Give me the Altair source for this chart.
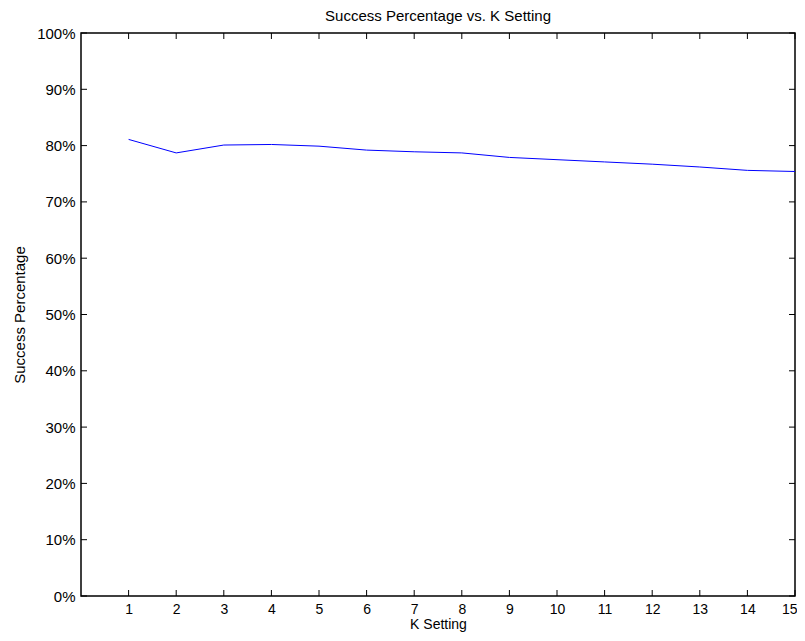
import altair as alt
import pandas as pd

k_values = list(range(1, 16))
success = [0.811, 0.787, 0.801, 0.802, 0.799, 0.792, 0.789, 0.787,
           0.779, 0.775, 0.771, 0.767, 0.762, 0.756, 0.754]
x_ticks = list(range(1, 16))
y_ticks = [i / 10 for i in range(11)]

W, H = 714, 563
TL = 6  # inward tick length
FONT = "Liberation Sans"
FS = 15

df = pd.DataFrame({"k": k_values, "s": success})
xt = pd.DataFrame({"k": x_ticks})
yt = pd.DataFrame({"s": y_ticks})

xscale = alt.Scale(domain=[0, 15], nice=False, zero=False)
yscale = alt.Scale(domain=[0, 1], nice=False)

line = alt.Chart(df).mark_line(color="#0000ff", strokeWidth=1).encode(
    x=alt.X("k:Q", scale=xscale,
            axis=alt.Axis(values=x_ticks, format="d", title="K Setting",
                          titlePadding=1, labelPadding=6,
                          labelFontSize=14, titleFontSize=14,
                          labelFlush=True, labelFlushOffset=2)),
    y=alt.Y("s:Q", scale=yscale,
            axis=alt.Axis(values=y_ticks, format=".0%", title="Success Percentage",
                          titlePadding=9, labelPadding=6, labelFlush=False)),
)

tick_style = dict(color="black", strokeWidth=1)
bottom_ticks = alt.Chart(xt).mark_rule(**tick_style).encode(
    x=alt.X("k:Q", scale=xscale), y=alt.value(H), y2=alt.value(H - TL))
top_ticks = alt.Chart(xt).mark_rule(**tick_style).encode(
    x=alt.X("k:Q", scale=xscale), y=alt.value(0), y2=alt.value(TL))
left_ticks = alt.Chart(yt).mark_rule(**tick_style).encode(
    y=alt.Y("s:Q", scale=yscale), x=alt.value(0), x2=alt.value(TL))
right_ticks = alt.Chart(yt).mark_rule(**tick_style).encode(
    y=alt.Y("s:Q", scale=yscale), x=alt.value(W), x2=alt.value(W - TL))

chart = alt.layer(line, bottom_ticks, top_ticks, left_ticks, right_ticks).properties(
    width=W, height=H,
    title=alt.TitleParams("Success Percentage vs. K Setting", fontSize=FS,
                          fontWeight="normal", font=FONT, color="black",
                          anchor="middle", offset=2),
    autosize=alt.AutoSizeParams(type="none"),
    padding={"left": 73, "top": 25, "right": 2, "bottom": 37},
).configure_view(
    stroke="black", strokeWidth=1.5
).configure_axis(
    grid=False, domain=False, ticks=False,
    labelFont=FONT, labelFontSize=FS, labelColor="black",
    titleFont=FONT, titleFontSize=FS, titleFontWeight="normal", titleColor="black",
)

chart.save("out.html", embed_options={"renderer": "svg", "actions": False})
